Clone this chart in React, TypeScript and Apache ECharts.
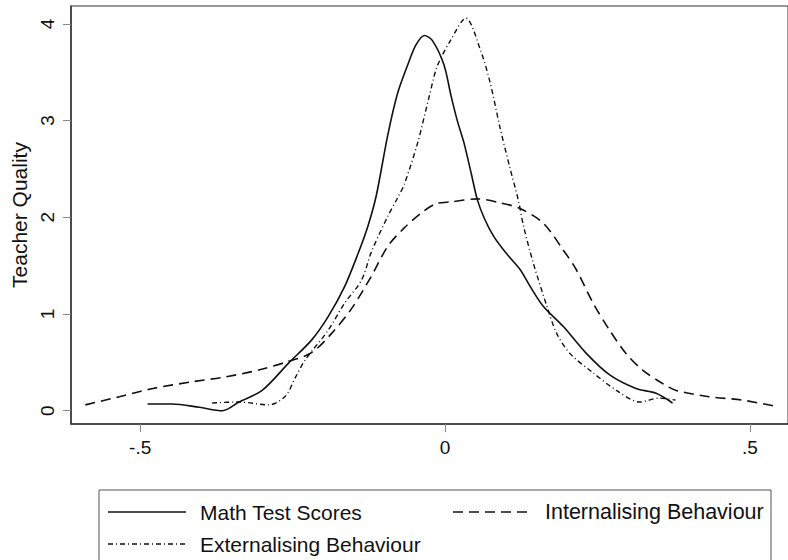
import React, { useEffect, useRef } from "react";
import * as echarts from "echarts";

// Kernel density curves: [x, density]
const mathTestScores: [number, number][] = [
  [-0.488, 0.07], [-0.447, 0.07], [-0.403, 0.035], [-0.365, 0.0], [-0.338, 0.09],
  [-0.3, 0.21], [-0.257, 0.49], [-0.219, 0.73], [-0.192, 0.97], [-0.165, 1.28],
  [-0.143, 1.62], [-0.127, 1.9], [-0.113, 2.22], [-0.094, 2.85], [-0.078, 3.28],
  [-0.061, 3.58], [-0.048, 3.78], [-0.034, 3.88], [-0.021, 3.83], [-0.002, 3.58],
  [0.01, 3.25], [0.02, 3.0], [0.031, 2.77], [0.043, 2.45], [0.053, 2.18],
  [0.065, 1.98], [0.08, 1.8], [0.1, 1.63], [0.123, 1.46], [0.14, 1.28],
  [0.161, 1.08], [0.194, 0.87], [0.232, 0.59], [0.27, 0.37], [0.313, 0.23],
  [0.346, 0.18], [0.373, 0.08],
];

const internalisingBehaviour: [number, number][] = [
  [-0.59, 0.06], [-0.534, 0.145], [-0.479, 0.23], [-0.414, 0.3], [-0.36, 0.35],
  [-0.306, 0.42], [-0.262, 0.5], [-0.219, 0.6], [-0.186, 0.8], [-0.154, 1.05],
  [-0.121, 1.39], [-0.094, 1.7], [-0.067, 1.89], [-0.04, 2.04], [-0.015, 2.14],
  [0.01, 2.16], [0.053, 2.19], [0.09, 2.15], [0.123, 2.09], [0.161, 1.94],
  [0.194, 1.66], [0.215, 1.46], [0.243, 1.11], [0.27, 0.83], [0.297, 0.59],
  [0.324, 0.42], [0.357, 0.28], [0.379, 0.21], [0.433, 0.145], [0.487, 0.11],
  [0.547, 0.04],
];

const externalisingBehaviour: [number, number][] = [
  [-0.382, 0.08], [-0.338, 0.09], [-0.289, 0.06], [-0.262, 0.15], [-0.245, 0.35],
  [-0.23, 0.52], [-0.192, 0.83], [-0.165, 1.11], [-0.137, 1.35], [-0.121, 1.64],
  [-0.094, 2.01], [-0.078, 2.2], [-0.067, 2.34], [-0.045, 2.77], [-0.026, 3.25],
  [-0.013, 3.56], [0.009, 3.83], [0.034, 4.06], [0.058, 3.73], [0.074, 3.39],
  [0.09, 2.93], [0.106, 2.52], [0.12, 2.18], [0.129, 1.9], [0.145, 1.52],
  [0.167, 1.08], [0.183, 0.8], [0.205, 0.59], [0.243, 0.39], [0.281, 0.21],
  [0.319, 0.09], [0.351, 0.13], [0.378, 0.11],
];

const xTickValues = [-0.5, 0, 0.5];
const xTickLabels = ["-.5", "0", ".5"];
const yTickValues = [0, 1, 2, 3, 4];
const yTickLabels = ["0", "1", "2", "3", "4"];
const seriesNames = ["Math Test Scores", "Internalising Behaviour", "Externalising Behaviour"];
const yAxisTitle = "Teacher Quality";

const FONT = "'Liberation Sans', Arial, sans-serif";
const INK = "#111";
const DASH = [10, 6];
const DASHDOT = [5, 3, 1, 3];

export default function App() {
  const ref = useRef<HTMLDivElement>(null);

  useEffect(() => {
    if (!ref.current) return;
    const chart = echarts.init(ref.current, undefined, { renderer: "svg" });
    const fmt = (vals: number[], labels: string[]) => (v: number) => {
      const i = vals.findIndex((t) => Math.abs(t - v) < 1e-9);
      return i >= 0 ? labels[i] : "";
    };
    chart.setOption({
      animation: false,
      backgroundColor: "#fff",
      grid: {
        left: 71,
        top: 6,
        right: -5,
        height: 418,
        show: true,
        borderColor: "#333",
        borderWidth: 1,
        backgroundColor: "transparent",
      },
      xAxis: {
        type: "value",
        min: -0.6135,
        max: 0.5624,
        axisLine: { show: true, onZero: false, lineStyle: { color: "#333", width: 1.5 } },
        axisTick: { show: true, length: 8, customValues: xTickValues, lineStyle: { color: "#888", width: 1 } },
        axisLabel: {
          customValues: xTickValues,
          formatter: fmt(xTickValues, xTickLabels),
          fontSize: 19,
          fontFamily: FONT,
          color: INK,
          margin: 14,
        },
        splitLine: { show: false },
      },
      yAxis: {
        type: "value",
        min: -0.1375,
        max: 4.185,
        name: yAxisTitle,
        nameLocation: "middle",
        nameRotate: 90,
        nameGap: 39,
        nameTextStyle: { fontSize: 21, fontFamily: FONT, color: INK },
        axisLine: { show: true, onZero: false, lineStyle: { color: "#333", width: 1.5 } },
        axisTick: { show: true, length: 8, customValues: yTickValues, lineStyle: { color: "#888", width: 1 } },
        axisLabel: {
          customValues: yTickValues,
          formatter: fmt(yTickValues, yTickLabels),
          rotate: 90,
          fontSize: 19,
          fontFamily: FONT,
          color: INK,
          margin: 14,
        },
        splitLine: { show: false },
      },
      series: [
        {
          name: seriesNames[0],
          type: "line",
          data: mathTestScores,
          showSymbol: false,
          smooth: 0.3,
          lineStyle: { color: INK, width: 1.6, type: "solid" },
        },
        {
          name: seriesNames[1],
          type: "line",
          data: internalisingBehaviour,
          showSymbol: false,
          smooth: 0.3,
          lineStyle: { color: INK, width: 1.6, type: DASH },
        },
        {
          name: seriesNames[2],
          type: "line",
          data: externalisingBehaviour,
          showSymbol: false,
          smooth: 0.3,
          lineStyle: { color: INK, width: 1.4, type: DASHDOT },
        },
      ],
      graphic: [
        {
          type: "rect",
          shape: { x: 99, y: 490, width: 672, height: 90 },
          style: { fill: "#fff", stroke: "#555", lineWidth: 1 },
        },
        {
          type: "line",
          shape: { x1: 108, y1: 512, x2: 186, y2: 512 },
          style: { stroke: INK, lineWidth: 1.6 },
        },
        {
          type: "text",
          x: 200,
          y: 512,
          style: { text: seriesNames[0], fontSize: 21, fontFamily: FONT, fill: INK, verticalAlign: "middle" },
        },
        {
          type: "line",
          shape: { x1: 453, y1: 512, x2: 531, y2: 512 },
          style: { stroke: INK, lineWidth: 1.6, lineDash: DASH },
        },
        {
          type: "text",
          x: 545,
          y: 512,
          style: { text: seriesNames[1], fontSize: 21.5, fontFamily: FONT, fill: INK, verticalAlign: "middle" },
        },
        {
          type: "line",
          shape: { x1: 108, y1: 544, x2: 186, y2: 544 },
          style: { stroke: INK, lineWidth: 1.4, lineDash: DASHDOT },
        },
        {
          type: "text",
          x: 200,
          y: 544,
          style: { text: seriesNames[2], fontSize: 21, fontFamily: FONT, fill: INK, verticalAlign: "middle" },
        },
      ],
    });
    return () => chart.dispose();
  }, []);

  return (
    <div
      ref={ref}
      style={{ position: "fixed", left: 0, top: 0, width: 788, height: 560, background: "#fff" }}
    />
  );
}
